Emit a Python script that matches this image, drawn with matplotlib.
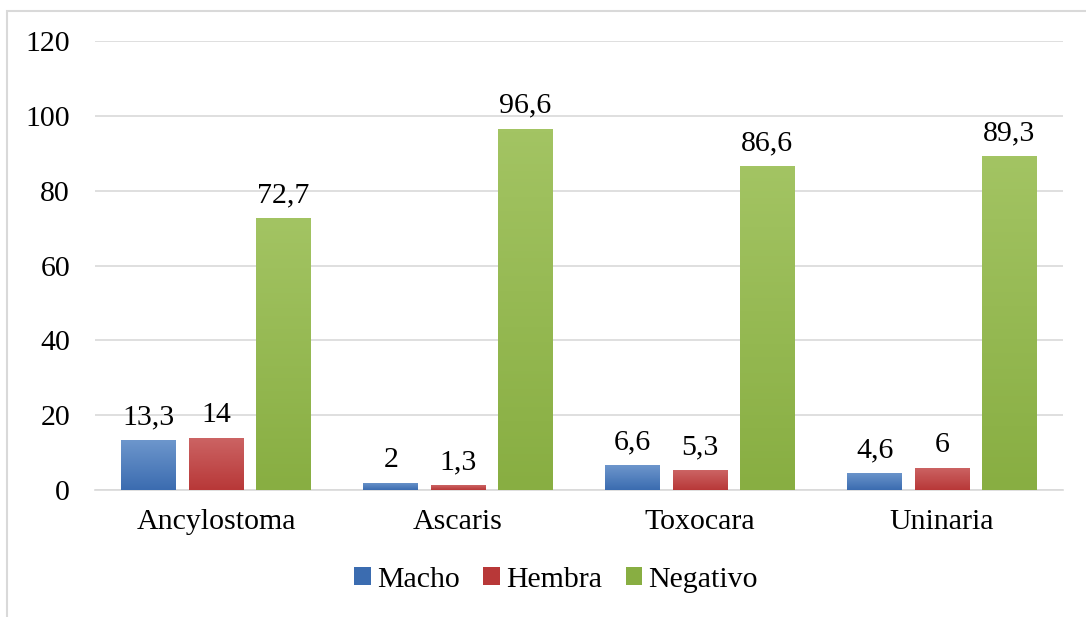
import matplotlib.pyplot as plt
import matplotlib.patches as mpatches
import numpy as np
from matplotlib.colors import LinearSegmentedColormap

categories = ['Ancylostoma', 'Ascaris', 'Toxocara', 'Uninaria']
series_names = ['Macho', 'Hembra', 'Negativo']
macho = [13.3, 2, 6.6, 4.6]
hembra = [14, 1.3, 5.3, 6]
negativo = [72.7, 96.6, 86.6, 89.3]
labels = [['13,3', '2', '6,6', '4,6'],
          ['14', '1,3', '5,3', '6'],
          ['72,7', '96,6', '86,6', '89,3']]

# top colour, bottom colour
grads = [('#6d96cc', '#3b6cb0'),
         ('#cc6464', '#b83838'),
         ('#a3c463', '#88ae42')]

plt.rcParams['font.family'] = ['Liberation Serif', 'DejaVu Serif']
FS = 21.5


def gradient_bar(ax, bar, top, bottom):
    cmap = LinearSegmentedColormap.from_list('g', [bottom, top])
    x0, y0 = bar.get_x(), bar.get_y()
    w, h = bar.get_width(), bar.get_height()
    grad = np.linspace(0, 1, 100).reshape(-1, 1)
    im = ax.imshow(grad, cmap=cmap, origin='lower', aspect='auto',
                   extent=(x0, x0 + w, y0, y0 + h), zorder=3)
    im.set_clip_path(bar)


def main():
    fig = plt.figure(figsize=(10.86, 6.17), dpi=100)
    ax = fig.add_axes([0.0875, 0.2058, 0.8913, 0.7277])

    # outer frame (chart area border, cut off at right/bottom)
    frame = mpatches.Rectangle((7 / 1086, -0.05), 1.1, 1 - 11 / 617 + 0.05,
                               transform=fig.transFigure, fill=False,
                               edgecolor='#d9d9d9', lw=1.5)
    fig.patches.append(frame)

    x = np.arange(len(categories))
    step = 0.278
    width = 0.227
    data = [macho, hembra, negativo]
    handles = []
    for i, (vals, name) in enumerate(zip(data, series_names)):
        bars = ax.bar(x + (i - 1) * step, vals, width, color=grads[i][1],
                      zorder=2, label=name)
        for b, lab in zip(bars, labels[i]):
            gradient_bar(ax, b, *grads[i])
            ax.annotate(lab, (b.get_x() + b.get_width() / 2, b.get_height()),
                        xytext=(0, 7), textcoords='offset points',
                        ha='center', va='bottom', fontsize=FS)
        handles.append(mpatches.Patch(
            facecolor=grads[i][1], label=name))

    ax.set_xlim(-0.5, 3.5)
    ax.set_ylim(0, 120)
    ax.set_yticks(range(0, 121, 20))
    ax.set_xticks(x)
    ax.set_xticklabels(categories)
    ax.tick_params(axis='both', length=0, labelsize=FS)
    ax.tick_params(axis='y', pad=18)
    ax.tick_params(axis='x', pad=14)
    ax.yaxis.grid(True, color='#d9d9d9', lw=1.2, zorder=0)
    ax.set_axisbelow(True)
    for s in ['top', 'right', 'left']:
        ax.spines[s].set_visible(False)
    ax.spines['bottom'].set_color('#d9d9d9')
    ax.spines['bottom'].set_linewidth(1.2)

    fig.legend(handles=handles, loc='center', bbox_to_anchor=(0.512, 1 - 580 / 617),
               ncol=3, frameon=False, fontsize=FS, handlelength=0.55,
               handleheight=0.55, handletextpad=0.2, columnspacing=0.8)

    fig.savefig('out.png', dpi=100)


if __name__ == '__main__':
    main()
